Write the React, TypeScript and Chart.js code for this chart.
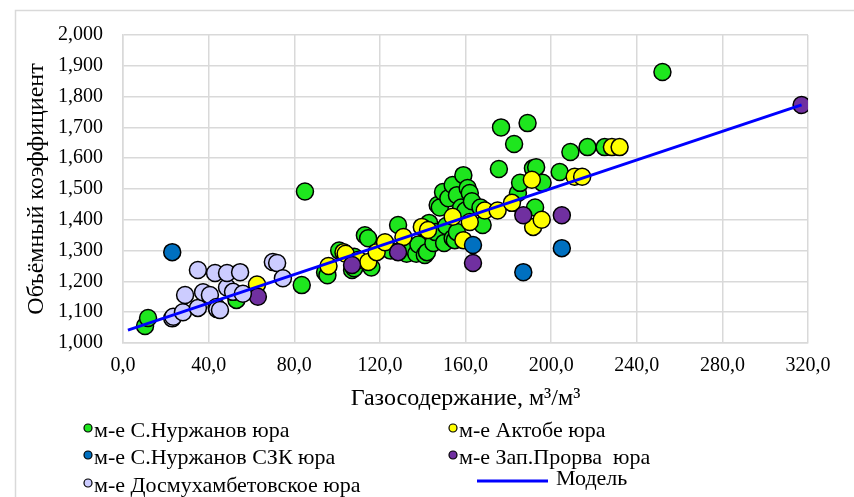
import React, { useEffect, useRef } from "react";
import { Chart, registerables } from "chart.js";

Chart.register(...registerables);

// ---- Data ----
const SERIES_NAMES = [
  "м-е С.Нуржанов юра",
  "м-е Актобе юра",
  "м-е С.Нуржанов СЗК юра",
  "м-е Зап.Прорва  юра",
  "м-е Досмухамбетовское юра",
  "Модель",
];

const nurzhanovX = [10.3, 11.7, 53, 83.5, 85, 94.4, 95.5, 101, 107, 108, 108, 113, 114.5, 116, 125, 128.5, 130, 132.5, 135, 137, 138, 141, 142, 143, 145, 146, 147, 148, 149.5, 150, 151, 152, 154, 154, 155, 156, 156, 158, 159, 160, 161, 162, 163, 167, 168, 175.6, 176.6, 182.7, 184.5, 185.5, 189, 191.5, 192.5, 193, 196, 204, 209, 217, 225, 252];
const nurzhanovY = [1.055, 1.081, 1.14, 1.188, 1.492, 1.23, 1.22, 1.30, 1.237, 1.243, 1.28, 1.35, 1.34, 1.245, 1.30, 1.383, 1.30, 1.29, 1.31, 1.29, 1.32, 1.286, 1.295, 1.39, 1.325, 1.36, 1.448, 1.44, 1.49, 1.325, 1.38, 1.47, 1.34, 1.513, 1.334, 1.36, 1.48, 1.44, 1.545, 1.43, 1.503, 1.487, 1.46, 1.44, 1.383, 1.565, 1.70, 1.646, 1.487, 1.52, 1.714, 1.567, 1.44, 1.571, 1.52, 1.555, 1.62, 1.636, 1.636, 1.88];

const aktobeX = [62.6, 96, 103, 104, 110, 114.6, 118.5, 122.4, 131, 139.6, 142.5, 154, 159, 162, 169, 175, 181.7, 191, 191.6, 195.6, 211, 214.5, 228.4, 232];
const aktobeY = [1.19, 1.25, 1.295, 1.29, 1.27, 1.263, 1.295, 1.327, 1.344, 1.377, 1.367, 1.41, 1.334, 1.393, 1.43, 1.43, 1.455, 1.53, 1.377, 1.40, 1.54, 1.54, 1.636, 1.636];

const szkX = [23, 163.5, 187, 205];
const szkY = [1.295, 1.318, 1.23, 1.308];

const prorvaX = [63, 107, 128.5, 163.5, 187, 205, 317];
const prorvaY = [1.15, 1.253, 1.295, 1.26, 1.415, 1.415, 1.773];

const dosmX = [23, 23.5, 28, 29, 35, 35, 37.4, 40.6, 43, 43.7, 44, 45.3, 48.6, 48.6, 51.4, 54.7, 56, 70, 72, 74.7];
const dosmY = [1.08, 1.085, 1.10, 1.156, 1.114, 1.237, 1.165, 1.156, 1.227, 1.117, 1.11, 1.107, 1.18, 1.227, 1.166, 1.23, 1.16, 1.263, 1.26, 1.21];

const modelX = [2.3, 317];
const modelY = [1.042, 1.773];

const X_TICK_LABELS = ["0,0", "40,0", "80,0", "120,0", "160,0", "200,0", "240,0", "280,0", "320,0"];
const Y_TICK_LABELS = ["1,000", "1,100", "1,200", "1,300", "1,400", "1,500", "1,600", "1,700", "1,800", "1,900", "2,000"];

const X_TITLE = "Газосодержание, м³/м³";
const Y_TITLE = "Объёмный коэффициент";

const COLORS = ["#1EE61E", "#FFFF00", "#0070C0", "#7030A0", "#CCCCFF", "#0000FF"];

const FONT = "'Liberation Serif', 'Times New Roman', serif";

const pts = (xs: number[], ys: number[]) => xs.map((x, i) => ({ x, y: ys[i] }));

const legendPlugin = {
  id: "customLegend",
  afterDraw(chart: any) {
    const ctx = chart.ctx;
    ctx.save();
    // outer frame
    ctx.strokeStyle = "#d9d9d9";
    ctx.lineWidth = 1.5;
    ctx.beginPath();
    ctx.moveTo(15.5, 497);
    ctx.lineTo(15.5, 10.5);
    ctx.lineTo(854, 10.5);
    ctx.stroke();

    const items = [
      { i: 0, x: 88, y: 431 },
      { i: 1, x: 453, y: 431 },
      { i: 2, x: 88, y: 458 },
      { i: 3, x: 453, y: 458 },
      { i: 4, x: 88, y: 486 },
      { i: 5, x: 453, y: 481 },
    ];
    ctx.font = `22px ${FONT}`;
    ctx.textBaseline = "middle";
    ctx.fillStyle = "#000";
    for (const it of items) {
      if (it.i < 5) {
        ctx.beginPath();
        ctx.arc(it.x, it.y - 3, 4, 0, Math.PI * 2);
        ctx.fillStyle = COLORS[it.i];
        ctx.fill();
        ctx.lineWidth = 1.2;
        ctx.strokeStyle = "#000";
        ctx.stroke();
        ctx.fillStyle = "#000";
        ctx.textAlign = "left";
        ctx.fillText(SERIES_NAMES[it.i], it.x + 6, it.y);
      } else {
        ctx.beginPath();
        ctx.strokeStyle = COLORS[5];
        ctx.lineWidth = 3;
        ctx.moveTo(477, it.y);
        ctx.lineTo(548, it.y);
        ctx.stroke();
        ctx.fillStyle = "#000";
        ctx.textAlign = "left";
        ctx.fillText(SERIES_NAMES[5], 556, it.y - 2);
      }
    }
    ctx.restore();
  },
};

export default function App() {
  const ref = useRef<HTMLCanvasElement>(null);
  useEffect(() => {
    if (!ref.current) return;
    const scatterDs = (idx: number, xs: number[], ys: number[], order: number) => ({
      type: "scatter" as const,
      label: SERIES_NAMES[idx],
      data: pts(xs, ys),
      backgroundColor: COLORS[idx],
      borderColor: "#000",
      borderWidth: 1.5,
      pointRadius: 8.5,
      order,
    });
    const chart = new Chart(ref.current, {
      type: "scatter",
      data: {
        datasets: [
          scatterDs(0, nurzhanovX, nurzhanovY, 5),
          scatterDs(1, aktobeX, aktobeY, 4),
          scatterDs(2, szkX, szkY, 3),
          scatterDs(3, prorvaX, prorvaY, 2),
          scatterDs(4, dosmX, dosmY, 1),
          {
            type: "line" as const,
            label: SERIES_NAMES[5],
            data: pts(modelX, modelY),
            borderColor: COLORS[5],
            borderWidth: 3,
            pointRadius: 0,
            showLine: true,
            fill: false,
            order: 0,
          } as any,
        ],
      },
      options: {
        animation: false,
        responsive: false,
        maintainAspectRatio: false,
        layout: { padding: { top: 35, right: 46, bottom: 82, left: 0 } },
        plugins: { legend: { display: false }, tooltip: { enabled: false } },
        scales: {
          x: {
            type: "linear",
            min: 0,
            max: 320,
            afterFit: (s: any) => {
              s.height = 72;
            },
            afterBuildTicks: (s: any) => {
              s.ticks = X_TICK_LABELS.map((_, i) => ({ value: i * 40 }));
            },
            ticks: {
              callback: (_v: any, i: number) => X_TICK_LABELS[i],
              font: { family: FONT, size: 20 },
              color: "#000",
              padding: 11,
              maxRotation: 0,
            },
            grid: { color: "#d9d9d9", lineWidth: 1.5, drawTicks: false },
            border: { color: "#d9d9d9", width: 1.5 },
            title: {
              display: true,
              text: X_TITLE,
              font: { family: FONT, size: 24 },
              color: "#000",
              padding: { top: 0, bottom: 2 },
            },
          },
          y: {
            type: "linear",
            min: 1,
            max: 2,
            afterFit: (s: any) => {
              s.width = 123;
            },
            afterBuildTicks: (s: any) => {
              s.ticks = Y_TICK_LABELS.map((_, i) => ({ value: 1 + i * 0.1 }));
            },
            ticks: {
              callback: (_v: any, i: number) => Y_TICK_LABELS[i],
              font: { family: FONT, size: 20 },
              color: "#000",
              padding: 20,
            },
            grid: { color: "#d9d9d9", lineWidth: 1.5, drawTicks: false },
            border: { color: "#d9d9d9", width: 1.5 },
            title: {
              display: true,
              text: Y_TITLE,
              font: { family: FONT, size: 24 },
              color: "#000",
              padding: { top: 22, bottom: 0 },
            },
          },
        },
      },
      plugins: [legendPlugin],
    } as any);
    return () => chart.destroy();
  }, []);
  return (
    <div style={{ position: "fixed", left: 0, top: 0, width: 854, height: 497, background: "#fff" }}>
      <canvas ref={ref} width={854} height={497} style={{ width: 854, height: 497, display: "block" }} />
    </div>
  );
}
